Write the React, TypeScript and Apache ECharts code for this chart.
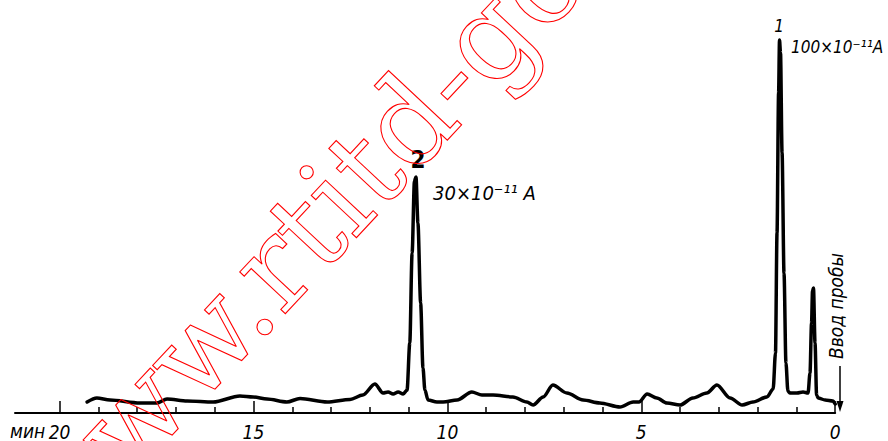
import React, { useEffect, useRef } from "react";
import * as echarts from "echarts";

// Retention time, minutes (axis runs from 20 on the left to 0 on the right)
const timeMin = [
  19.29, 19.04, 18.7, 17.93, 17.49, 17.23, 16.71, 16.04, 15.35, 15.01, 14.65, 14.14,
  13.8, 13.1, 12.51, 12.18, 11.87, 11.66, 11.53, 11.4, 11.27, 11.14, 11.04,
  10.97, 10.91, 10.85, 10.81, 10.76, 10.69, 10.63, 10.58, 10.5,
  10.27, 10.11, 9.75, 9.37, 9.11, 8.82, 8.31, 7.95, 7.79, 7.53, 7.28, 6.92, 6.5,
  6.07, 5.55, 5.21, 5.06, 4.85, 4.6, 4.34, 4.0, 3.67, 3.31, 3.05, 2.71, 2.4, 2.12,
  1.76, 1.6, 1.54, 1.5, 1.46, 1.436, 1.41, 1.37, 1.32, 1.27, 1.22, 1.17,
  0.985, 0.83, 0.7, 0.65, 0.61, 0.585, 0.56, 0.52, 0.48, 0.44, 0.26, 0.06, 0.0,
];
// Detector signal (relative units)
const signal = [
  11, 15, 13, 10, 10, 14, 12, 11, 17, 16, 14, 11,
  14.5, 11, 13.5, 18, 29, 20, 21, 19, 21, 19, 23,
  70, 160, 232, 236, 190, 110, 45, 23, 13,
  11, 11, 13, 21, 18, 18, 16, 11, 8, 16, 28, 20, 13,
  10, 6, 11, 11, 19, 15, 10, 8, 15, 20, 28, 15, 8, 11,
  16, 24, 60, 180, 320, 373, 360, 260, 140, 50, 22, 20,
  20, 21, 20, 40, 90, 122, 125, 70, 18, 15, 13, 12, 9,
];
const majorTicks = [0, 5, 10, 15, 20];
const minorTicks = [1, 2, 3, 4, 6, 7, 8, 9, 11, 12, 13, 14, 16, 17, 18, 19];
const axisUnit = "мин";
const peakLabels = ["1", "2"];
const peakScales = ["100×10⁻¹¹A", "30×10⁻¹¹ A"];
const injectionLabel = "Ввод пробы";
const watermark = "www.rtitd-go";

const FONT = "'Liberation Sans Narrow', 'DejaVu Sans Condensed', Roboto, sans-serif";

export default function App() {
  const ref = useRef<HTMLDivElement>(null);
  useEffect(() => {
    if (!ref.current) return;
    const chart = echarts.init(ref.current, null, { renderer: "svg" });
    const data = timeMin.map((t, i) => [t, signal[i]]);
    const xMax = 21.15;
    const deg = Math.PI / 180;
    chart.setOption({
      animation: false,
      backgroundColor: "#ffffff",
      grid: { left: 15, right: 52.8, top: 13, bottom: 28 },
      xAxis: [
        {
          type: "value",
          inverse: true,
          position: "bottom",
          min: 0,
          max: xMax,
          axisLine: { show: true, lineStyle: { color: "#000", width: 2 } },
          axisTick: {
            show: true,
            inside: true,
            length: 12,
            customValues: majorTicks,
            lineStyle: { color: "#000", width: 1.5 },
          },
          axisLabel: {
            customValues: majorTicks,
            margin: 9,
            fontSize: 19,
            fontStyle: "italic",
            fontFamily: FONT,
            color: "#000",
          },
          splitLine: { show: false },
        },
        {
          type: "value",
          inverse: true,
          position: "bottom",
          min: 0,
          max: xMax,
          axisLine: { show: false },
          axisTick: {
            show: true,
            inside: true,
            length: 6,
            customValues: minorTicks,
            lineStyle: { color: "#000", width: 1.5 },
          },
          axisLabel: { show: false },
          splitLine: { show: false },
        },
      ],
      yAxis: { type: "value", min: 0, max: 400, show: false },
      series: [
        {
          type: "line",
          data,
          xAxisIndex: 0,
          showSymbol: false,
          smooth: 0.3,
          smoothMonotone: "x",
          lineStyle: { color: "#000", width: 3.5, join: "round", cap: "round" },
          z: 3,
        },
      ],
      graphic: [
        {
          type: "text",
          x: 10,
          y: 421,
          style: {
            text: axisUnit,
            fontSize: 19,
            fontStyle: "italic",
            fontFamily: FONT,
            fill: "#000",
            align: "left",
            verticalAlign: "top",
          },
        },
        {
          type: "text",
          x: 779,
          y: 26,
          style: {
            text: peakLabels[0],
            fontSize: 17,
            fontStyle: "italic",
            fontFamily: FONT,
            fill: "#000",
            align: "center",
            verticalAlign: "middle",
          },
        },
        {
          type: "text",
          x: 791,
          y: 47,
          style: {
            text: peakScales[0],
            fontSize: 17,
            fontStyle: "italic",
            fontFamily: FONT,
            fill: "#000",
            align: "left",
            verticalAlign: "middle",
          },
        },
        {
          type: "text",
          x: 418,
          y: 160,
          style: {
            text: peakLabels[1],
            fontSize: 24,
            fontWeight: "bold",
            fontFamily: FONT,
            fill: "#000",
            align: "center",
            verticalAlign: "middle",
          },
        },
        {
          type: "text",
          x: 433,
          y: 193,
          style: {
            text: peakScales[1],
            fontSize: 20,
            fontStyle: "italic",
            fontFamily: FONT,
            fill: "#000",
            align: "left",
            verticalAlign: "middle",
          },
        },
        {
          type: "text",
          x: 836,
          y: 306,
          rotation: 90 * deg,
          style: {
            text: injectionLabel,
            fontSize: 19,
            fontStyle: "italic",
            fontFamily: FONT,
            fill: "#000",
            align: "center",
            verticalAlign: "middle",
          },
        },
        {
          type: "line",
          shape: { x1: 840, y1: 366, x2: 840, y2: 404 },
          style: { stroke: "#000", lineWidth: 1.5 },
        },
        {
          type: "polygon",
          shape: { points: [[836.5, 401], [843.5, 401], [840, 412]] },
          style: { fill: "#000" },
        },
        {
          type: "text",
          x: 27.5,
          y: 530,
          rotation: 47 * deg,
          z: 100,
          style: {
            text: watermark,
            fontSize: 119,
            fontFamily: "'DejaVu Serif', serif",
            fill: "none",
            stroke: "#ff0000",
            lineWidth: 1.1,
            align: "left",
            verticalAlign: "middle",
          },
        },
      ],
    });
    return () => chart.dispose();
  }, []);
  return (
    <div
      ref={ref}
      style={{ position: "fixed", left: 0, top: 0, width: 888, height: 441 }}
    />
  );
}
